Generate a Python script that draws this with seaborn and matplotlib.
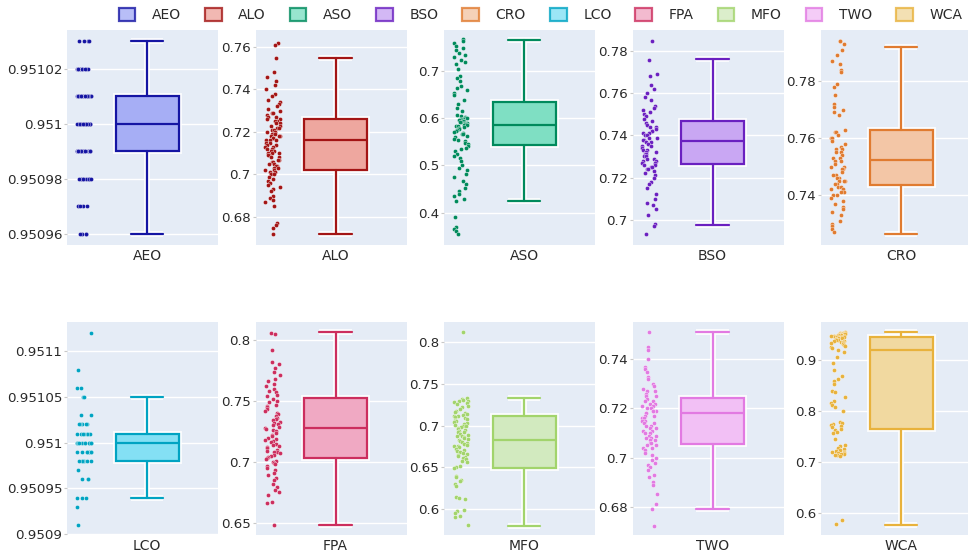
import numpy as np
import matplotlib
matplotlib.use("Agg")
import matplotlib.pyplot as plt
from matplotlib.patches import Patch, PathPatch
import seaborn as sns

# ---- data ----
NAMES = ["AEO", "ALO", "ASO", "BSO", "CRO", "LCO", "FPA", "MFO", "TWO", "WCA"]

LINE_COLORS = ["#1515a3", "#a31515", "#008a5c", "#6a20c0", "#e07b30",
               "#00a3c2", "#cc2e5e", "#a2d46c", "#e27ae2", "#e8b23c"]
FILL_COLORS = ["#a6aef5", "#eea79f", "#7fdfc3", "#c9a7f3", "#f3c6a6",
               "#84e0f4", "#f0a9c3", "#d2eabf", "#f2c0f5", "#f1d9a0"]

# discrete-valued series: levels and how many points sit on each
AEO_levels = [0.95103, 0.95102, 0.95101, 0.95100, 0.95099, 0.95098, 0.95097, 0.95096]
AEO_counts = [4, 10, 24, 26, 20, 10, 4, 4]
LCO_levels = [0.95112, 0.95108, 0.95106, 0.95105, 0.95103, 0.95102, 0.95101, 0.95100,
              0.95099, 0.95098, 0.95097, 0.95096, 0.95094, 0.95093, 0.95091]
LCO_counts = [1, 1, 2, 2, 2, 5, 7, 12, 9, 6, 1, 3, 3, 1, 1]

ALO = [0.762, 0.761, 0.755, 0.748, 0.746, 0.744, 0.742, 0.740, 0.738, 0.737, 0.735, 0.734,
       0.733, 0.732, 0.731, 0.730, 0.729, 0.729, 0.728, 0.727, 0.727, 0.726, 0.726, 0.725,
       0.725, 0.724, 0.724, 0.723, 0.723, 0.722, 0.722, 0.721, 0.721, 0.720, 0.720, 0.719,
       0.719, 0.719, 0.718, 0.718, 0.718, 0.717, 0.717, 0.716, 0.716, 0.716, 0.715, 0.715,
       0.714, 0.714, 0.713, 0.713, 0.712, 0.712, 0.711, 0.711, 0.710, 0.710, 0.710, 0.709,
       0.709, 0.708, 0.708, 0.707, 0.707, 0.706, 0.706, 0.705, 0.705, 0.704, 0.704, 0.703,
       0.703, 0.702, 0.702, 0.701, 0.701, 0.700, 0.700, 0.699, 0.698, 0.697, 0.696, 0.695,
       0.694, 0.693, 0.692, 0.690, 0.689, 0.688, 0.687, 0.685, 0.677, 0.676, 0.675, 0.672]
ASO = [0.768, 0.765, 0.760, 0.755, 0.750, 0.745, 0.740, 0.735, 0.730, 0.725, 0.720, 0.715,
       0.705, 0.690, 0.685, 0.680, 0.670, 0.665, 0.660, 0.655, 0.650, 0.640, 0.630, 0.622,
       0.615, 0.608, 0.605, 0.603, 0.601, 0.600, 0.599, 0.598, 0.597, 0.596, 0.595, 0.594,
       0.593, 0.592, 0.591, 0.590, 0.589, 0.588, 0.587, 0.586, 0.585, 0.583, 0.581, 0.580,
       0.578, 0.576, 0.574, 0.572, 0.570, 0.568, 0.566, 0.563, 0.560, 0.557, 0.554, 0.551,
       0.548, 0.545, 0.542, 0.538, 0.535, 0.530, 0.525, 0.520, 0.515, 0.510, 0.500, 0.495,
       0.490, 0.482, 0.475, 0.468, 0.460, 0.452, 0.445, 0.440, 0.435, 0.428, 0.424, 0.390,
       0.370, 0.365, 0.360, 0.355]
BSO = [0.785, 0.776, 0.769, 0.768, 0.764, 0.762, 0.760, 0.758, 0.757, 0.754, 0.753, 0.752,
       0.751, 0.750, 0.749, 0.748, 0.747, 0.746, 0.745, 0.744, 0.744, 0.743, 0.742, 0.742,
       0.741, 0.741, 0.740, 0.740, 0.739, 0.739, 0.738, 0.738, 0.737, 0.737, 0.736, 0.735,
       0.735, 0.734, 0.733, 0.733, 0.732, 0.732, 0.731, 0.731, 0.730, 0.730, 0.729, 0.729,
       0.728, 0.728, 0.727, 0.727, 0.726, 0.726, 0.725, 0.725, 0.724, 0.724, 0.723, 0.722,
       0.721, 0.720, 0.718, 0.717, 0.715, 0.712, 0.710, 0.708, 0.707, 0.705, 0.702, 0.698,
       0.697, 0.693]
CRO = [0.794, 0.794, 0.793, 0.791, 0.789, 0.787, 0.786, 0.784, 0.783, 0.779, 0.778, 0.775,
       0.772, 0.771, 0.770, 0.769, 0.768, 0.763, 0.762, 0.762, 0.761, 0.760, 0.760, 0.759,
       0.758, 0.757, 0.756, 0.756, 0.755, 0.755, 0.754, 0.753, 0.753, 0.752, 0.752, 0.751,
       0.750, 0.750, 0.749, 0.749, 0.748, 0.747, 0.747, 0.746, 0.746, 0.745, 0.745, 0.745,
       0.744, 0.744, 0.743, 0.743, 0.742, 0.742, 0.741, 0.741, 0.740, 0.740, 0.739, 0.738,
       0.737, 0.736, 0.735, 0.734, 0.733, 0.731, 0.730, 0.729, 0.728, 0.727]
FPA = [0.806, 0.805, 0.792, 0.782, 0.780, 0.777, 0.774, 0.771, 0.768, 0.766, 0.764, 0.762,
       0.760, 0.758, 0.757, 0.755, 0.754, 0.752, 0.750, 0.749, 0.747, 0.746, 0.745, 0.743,
       0.742, 0.740, 0.739, 0.738, 0.736, 0.735, 0.734, 0.733, 0.732, 0.731, 0.730, 0.729,
       0.728, 0.727, 0.726, 0.725, 0.724, 0.722, 0.721, 0.720, 0.719, 0.718, 0.717, 0.716,
       0.715, 0.714, 0.713, 0.712, 0.711, 0.710, 0.709, 0.708, 0.708, 0.707, 0.706, 0.705,
       0.704, 0.703, 0.702, 0.701, 0.700, 0.699, 0.698, 0.697, 0.695, 0.693, 0.691, 0.689,
       0.687, 0.685, 0.682, 0.679, 0.677, 0.675, 0.673, 0.667, 0.666, 0.648]
MFO = [0.812, 0.733, 0.732, 0.731, 0.730, 0.729, 0.728, 0.727, 0.726, 0.724, 0.722, 0.720,
       0.718, 0.716, 0.715, 0.714, 0.713, 0.712, 0.711, 0.710, 0.709, 0.708, 0.707, 0.706,
       0.705, 0.704, 0.703, 0.702, 0.701, 0.700, 0.699, 0.698, 0.697, 0.696, 0.695, 0.694,
       0.693, 0.692, 0.690, 0.689, 0.688, 0.687, 0.686, 0.685, 0.684, 0.683, 0.682, 0.680,
       0.679, 0.678, 0.677, 0.676, 0.675, 0.674, 0.672, 0.671, 0.670, 0.668, 0.667, 0.666,
       0.665, 0.663, 0.662, 0.661, 0.660, 0.658, 0.656, 0.651, 0.650, 0.649, 0.640, 0.638,
       0.635, 0.633, 0.630, 0.628, 0.614, 0.613, 0.612, 0.599, 0.597, 0.595, 0.592, 0.590,
       0.581]
TWO = [0.751, 0.745, 0.744, 0.740, 0.737, 0.736, 0.735, 0.733, 0.732, 0.730, 0.729, 0.728,
       0.727, 0.727, 0.726, 0.725, 0.725, 0.724, 0.723, 0.723, 0.722, 0.722, 0.721, 0.721,
       0.720, 0.720, 0.719, 0.719, 0.719, 0.718, 0.718, 0.717, 0.717, 0.716, 0.716, 0.715,
       0.715, 0.714, 0.714, 0.713, 0.713, 0.712, 0.712, 0.711, 0.711, 0.710, 0.710, 0.709,
       0.709, 0.708, 0.708, 0.707, 0.707, 0.706, 0.706, 0.705, 0.705, 0.704, 0.704, 0.703,
       0.702, 0.701, 0.700, 0.699, 0.698, 0.697, 0.696, 0.695, 0.693, 0.692, 0.690, 0.689,
       0.685, 0.681, 0.679, 0.672]
WCA = [0.955, 0.954, 0.953, 0.953, 0.952, 0.952, 0.951, 0.951, 0.950, 0.950, 0.949, 0.949,
       0.948, 0.948, 0.947, 0.947, 0.946, 0.946, 0.945, 0.945, 0.944, 0.944, 0.943, 0.942,
       0.941, 0.940, 0.939, 0.938, 0.937, 0.936, 0.935, 0.934, 0.933, 0.932, 0.930, 0.928,
       0.926, 0.923, 0.920, 0.915, 0.905, 0.895, 0.880, 0.868, 0.862, 0.858, 0.852, 0.840,
       0.838, 0.828, 0.820, 0.815, 0.812, 0.808, 0.800, 0.779, 0.776, 0.774, 0.772, 0.770,
       0.768, 0.765, 0.762, 0.759, 0.756, 0.745, 0.733, 0.730, 0.728, 0.726, 0.724, 0.722,
       0.720, 0.719, 0.718, 0.717, 0.716, 0.715, 0.714, 0.713, 0.712, 0.585, 0.577]

# box statistics as drawn (lower whisker, q1, median, q3, upper whisker)
BOX_LO = [0.95096, 0.672, 0.424, 0.6973, 0.7263, 0.95094, 0.648, 0.580, 0.679, 0.576]
BOX_Q1 = [0.95099, 0.702, 0.543, 0.7266, 0.7435, 0.95098, 0.7035, 0.6497, 0.7055, 0.7644]
BOX_MED = [0.95100, 0.716, 0.586, 0.7373, 0.7524, 0.95100, 0.7278, 0.6833, 0.7183, 0.9196]
BOX_Q3 = [0.95101, 0.726, 0.634, 0.7466, 0.7627, 0.95101, 0.7528, 0.7116, 0.7244, 0.9458]
BOX_HI = [0.95103, 0.755, 0.767, 0.7764, 0.7918, 0.95105, 0.8063, 0.7332, 0.7511, 0.955]

values = {
    "AEO": np.repeat(AEO_levels, AEO_counts), "ALO": ALO, "ASO": ASO, "BSO": BSO,
    "CRO": CRO, "LCO": np.repeat(LCO_levels, LCO_counts), "FPA": FPA, "MFO": MFO,
    "TWO": TWO, "WCA": WCA,
}

# axis ranges / ticks per panel
YLIMS = [(0.950956, 0.951034), (0.6668, 0.768), (0.331, 0.788), (0.688, 0.790),
         (0.7225, 0.7979), (0.950899, 0.951132), (0.640, 0.8148), (0.5688, 0.8244),
         (0.6685, 0.7552), (0.556, 0.9747)]
YTICKS = [[0.95096, 0.95098, 0.951, 0.95102], [0.68, 0.70, 0.72, 0.74, 0.76],
          [0.4, 0.5, 0.6, 0.7], [0.70, 0.72, 0.74, 0.76, 0.78], [0.74, 0.76, 0.78],
          [0.9509, 0.95095, 0.951, 0.95105, 0.9511], [0.65, 0.70, 0.75, 0.80],
          [0.6, 0.65, 0.7, 0.75, 0.8], [0.68, 0.70, 0.72, 0.74], [0.6, 0.7, 0.8, 0.9]]

BG = "#E5ECF6"
TXT = "#2a2a2a"

sns.set_theme(style="darkgrid", rc={"axes.facecolor": BG, "grid.color": "white",
                                     "grid.linewidth": 1.0})
plt.rcParams["font.family"] = ["DejaVu Sans"]

W, H = 968, 558
fig = plt.figure(figsize=(W / 100, H / 100), dpi=100)

col_left = [67, 255.5, 444, 632.5, 821]
row_top = [30, 322]
row_h = [215, 213]
pw = 151
LW = 1.6


def fmt(v):
    return f"{v:.6f}".rstrip("0").rstrip(".")


for i, name in enumerate(NAMES):
    r, c = divmod(i, 5)
    ax = fig.add_axes([col_left[c] / W, (H - row_top[r] - row_h[r]) / H,
                       pw / W, row_h[r] / H])
    line, fill = LINE_COLORS[i], FILL_COLORS[i]

    sns.stripplot(y=values[name], ax=ax, color=line, size=3.0, jitter=0.12,
                  edgecolor="white", linewidth=0.25, zorder=3)

    stats = [dict(whislo=BOX_LO[i], q1=BOX_Q1[i], med=BOX_MED[i], q3=BOX_Q3[i],
                  whishi=BOX_HI[i], fliers=[])]
    art = ax.bxp(stats, positions=[1.0], widths=[1.0], capwidths=[0.52],
                 patch_artist=True, showfliers=False, manage_ticks=False,
                 boxprops=dict(facecolor=fill, edgecolor=line, linewidth=LW),
                 medianprops=dict(color=line, linewidth=LW),
                 whiskerprops=dict(color=line, linewidth=LW),
                 capprops=dict(color=line, linewidth=LW))
    # soft white halo drawn underneath all box parts
    for key in ("whiskers", "caps"):
        for a in art[key]:
            xd, yd = a.get_data()
            ax.plot(xd, yd, color="white", lw=LW + 2.6, alpha=0.9, zorder=3.8,
                    solid_capstyle="butt")
            a.set_zorder(4.2)
    for b in art["boxes"]:
        ax.add_patch(PathPatch(b.get_path(), transform=b.get_transform(),
                               facecolor="none", edgecolor="white", lw=LW + 2.6,
                               alpha=0.9, zorder=3.8))
        b.set_zorder(4.0)
    for m in art["medians"]:
        m.set_zorder(4.3)

    ax.set_xlim(-0.27, 2.127)
    ax.set_ylim(*YLIMS[i])
    ax.set_yticks(YTICKS[i])
    ax.set_yticklabels([fmt(t) for t in YTICKS[i]])
    ax.set_xticks([1.0])
    ax.set_xticklabels([name])
    ax.grid(axis="x", visible=False)
    ax.grid(axis="y", color="white", linewidth=1.0)
    ax.set_axisbelow(True)
    for s in ax.spines.values():
        s.set_visible(False)
    ax.tick_params(axis="y", length=2.5, width=0.8, color="#c8c8c8", pad=1,
                   labelsize=9.6, labelcolor=TXT, left=True)
    ax.tick_params(axis="x", length=0, pad=3, labelsize=10, labelcolor=TXT)
    ax.set_xlabel("")
    ax.set_ylabel("")

handles = [Patch(facecolor=FILL_COLORS[i], edgecolor=LINE_COLORS[i], linewidth=1.6,
                 alpha=0.8, label=n) for i, n in enumerate(NAMES)]
leg = fig.legend(handles=handles, ncol=10, loc="center right",
                 bbox_to_anchor=(1.0, 1 - 15 / H), frameon=False, fontsize=10,
                 handlelength=1.2, handleheight=1.05, handletextpad=1.2,
                 columnspacing=1.72, borderaxespad=0)
for t in leg.get_texts():
    t.set_color(TXT)

fig.savefig("out.png", dpi=100, facecolor="white")
